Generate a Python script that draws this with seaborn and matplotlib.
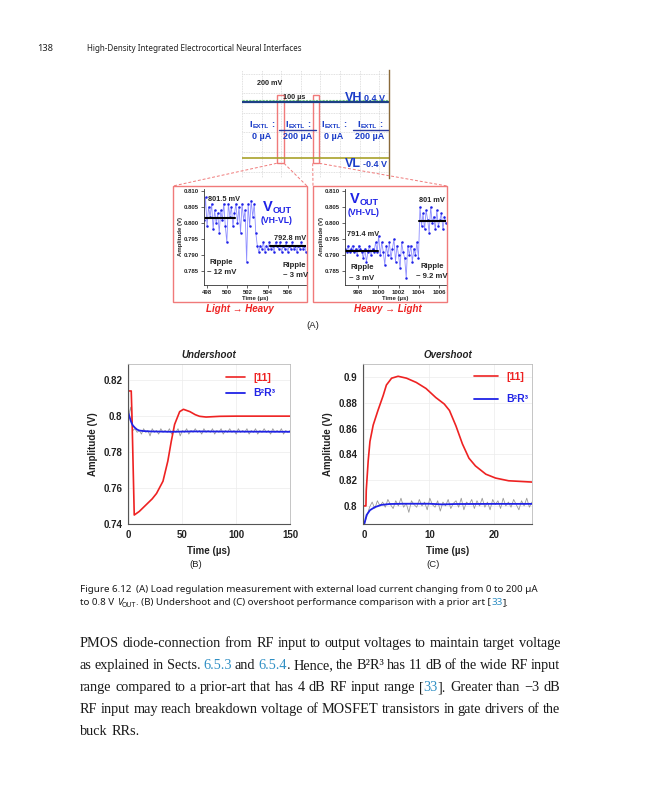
import re
import matplotlib
matplotlib.use("Agg")
import numpy as np
import pandas as pd
import seaborn as sns
import matplotlib.pyplot as plt
from matplotlib.patches import Rectangle

W, H = 648, 800

# ---------------- data ----------------
# (B) undershoot, [11] trace
under_ref_t = [0, 2.5, 3.2, 5.3, 10, 16, 22, 26, 32, 36.5, 39.7, 42.8, 47.5, 51, 57, 62, 66, 72, 85, 100, 150]
under_ref_v = [0.814, 0.814, 0.800, 0.745, 0.747, 0.7505, 0.754, 0.757, 0.7638, 0.775, 0.786, 0.7954,
               0.8025, 0.8038, 0.8025, 0.8008, 0.7999, 0.7995, 0.7999, 0.800, 0.800]
# (B) B2R3 smoothed trace
under_b2r3_t = [0, 1, 2, 3, 4, 6, 8, 10, 14, 20, 40, 60, 100, 150]
under_b2r3_v = [0.8015, 0.7995, 0.7975, 0.796, 0.7948, 0.7935, 0.7925, 0.792, 0.7917, 0.7915,
                0.7913, 0.7915, 0.7914, 0.7913]
# (B) B2R3 raw (grey) trace, sampled every 2 us
under_raw_v = [0.800, 0.805, 0.792, 0.793, 0.791, 0.792, 0.790, 0.793, 0.791, 0.792,
               0.789, 0.793, 0.791, 0.792, 0.790, 0.793, 0.791, 0.792, 0.791, 0.793,
               0.790, 0.792, 0.791, 0.793, 0.789, 0.792, 0.791, 0.793, 0.790, 0.792,
               0.791, 0.793, 0.791, 0.792, 0.790, 0.793, 0.791, 0.792, 0.791, 0.793,
               0.790, 0.792, 0.791, 0.793, 0.790, 0.792, 0.791, 0.793, 0.791, 0.792,
               0.790, 0.793, 0.791, 0.792, 0.791, 0.793, 0.790, 0.792, 0.791, 0.793,
               0.790, 0.792, 0.791, 0.793, 0.791, 0.792, 0.790, 0.793, 0.791, 0.792,
               0.791, 0.793, 0.790, 0.792, 0.791, 0.792]

# (C) overshoot
over_ref_t = [-0.2, 0.25, 0.3, 0.6, 0.87, 1.37, 2.1, 2.9, 3.4, 4.2, 5.2, 6.5, 8, 9.5, 11, 12.3,
              13.1, 14.1, 15.1, 16.1, 17.1, 18.7, 20.2, 22.2, 25.8]
over_ref_v = [0.800, 0.800, 0.812, 0.835, 0.850, 0.8627, 0.874, 0.8855, 0.8937, 0.899, 0.9005,
              0.899, 0.8957, 0.891, 0.884, 0.879, 0.874, 0.862, 0.848, 0.837, 0.831, 0.8246,
              0.8216, 0.8195, 0.8185]
over_b2r3_t = [0, 0.36, 0.87, 1.6, 2.6, 3.9, 6, 10, 12, 14, 20, 25.8]
over_b2r3_v = [0.786, 0.793, 0.7967, 0.799, 0.8008, 0.8015, 0.8017, 0.8017, 0.8012, 0.8015,
               0.8016, 0.8016]
over_raw_v = [0.786, 0.792, 0.799, 0.803, 0.798, 0.804, 0.800, 0.803, 0.799, 0.805,
              0.801, 0.798, 0.804, 0.800, 0.806, 0.799, 0.802, 0.795, 0.804, 0.801,
              0.799, 0.805, 0.800, 0.803, 0.797, 0.806, 0.801, 0.799, 0.804, 0.796,
              0.803, 0.800, 0.805, 0.798, 0.802, 0.804, 0.799, 0.806, 0.797, 0.803,
              0.801, 0.805, 0.798, 0.804, 0.800, 0.806, 0.799, 0.803, 0.797, 0.805,
              0.801, 0.804, 0.798, 0.806, 0.800, 0.803, 0.799, 0.805, 0.801, 0.797,
              0.804, 0.800, 0.806, 0.799, 0.803]

# (A) zoomed V_OUT traces
lh_vout = [0.801, 0.808, 0.799, 0.805, 0.802, 0.806, 0.798, 0.804, 0.800, 0.803,
           0.797, 0.804, 0.801, 0.806, 0.799, 0.794, 0.806, 0.802, 0.805, 0.799,
           0.803, 0.806, 0.800, 0.805, 0.797, 0.806, 0.801, 0.804, 0.788, 0.806,
           0.799, 0.807, 0.802, 0.806,
           0.797, 0.793, 0.791, 0.793, 0.792, 0.794, 0.791, 0.793, 0.792, 0.794,
           0.792, 0.793, 0.791, 0.794, 0.793, 0.792, 0.794, 0.791, 0.793, 0.792,
           0.794, 0.791, 0.793, 0.792, 0.794, 0.792, 0.793, 0.791, 0.793, 0.792,
           0.794, 0.792, 0.793, 0.791]
lh_span = (497.7, 507.8)
lh_levels = [(497.7, 500.8, 0.8015), (504.2, 507.8, 0.7928)]

hl_vout = [0.792, 0.791, 0.793, 0.791, 0.792, 0.793, 0.791, 0.792, 0.790, 0.793,
           0.792, 0.791, 0.789, 0.792, 0.788, 0.791, 0.793, 0.790, 0.792, 0.791,
           0.794, 0.791,
           0.796, 0.790, 0.794, 0.791, 0.787, 0.793, 0.790, 0.794, 0.789, 0.792,
           0.795, 0.788, 0.793, 0.790, 0.786, 0.794, 0.791, 0.789, 0.783, 0.793,
           0.790, 0.793, 0.788, 0.792, 0.790, 0.794, 0.789,
           0.805, 0.799, 0.803, 0.798, 0.804, 0.801, 0.797, 0.805, 0.800, 0.802,
           0.798, 0.804, 0.799, 0.801, 0.803, 0.798, 0.802, 0.800]
hl_span = (996.7, 1006.7)
hl_levels = [(996.7, 1000.0, 0.7913), (1004.0, 1006.7, 0.8005)]

# scope screen: levels in V, load-step windows in us
scope_vh, scope_vl = 0.4, -0.4
scope_heavy = [(189, 378), (566, 750)]
iextl_labels = ["0 µA", "200 µA", "0 µA", "200 µA"]

body_lines = [
    "PMOS diode-connection from RF input to output voltages to maintain target voltage",
    "as explained in Sects. {6.5.3} and {6.5.4}. Hence, the B²R³ has 11 dB of the wide RF input",
    "range compared to a prior-art that has 4 dB RF input range [{33}]. Greater than −3 dB",
    "RF input may reach breakdown voltage of MOSFET transistors in gate drivers of the",
    "buck RRs.",
]

RED = "#ee2222"
BLUE = "#1f22e6"
SCOPE_BLUE = "#1a3cc8"
LINK = "#2f8fc4"
PINK = "#f07a7a"

sns.set_theme(style="white")
plt.rcParams["font.family"] = ["Liberation Sans", "DejaVu Sans"]

fig = plt.figure(figsize=(W / 100, H / 100), dpi=100)
# transparent overlay in page pixels, drawn above the chart axes
page = fig.add_axes([0, 0, 1, 1])
page.set_xlim(0, W)
page.set_ylim(H, 0)
page.axis("off")
page.patch.set_visible(False)
page.set_zorder(10)
renderer = fig.canvas.get_renderer()


def px_axes(x0, y0, x1, y1):
    return fig.add_axes([x0 / W, 1 - y1 / H, (x1 - x0) / W, (y1 - y0) / H])


def text_width(s, **kw):
    kw = {k: v for k, v in kw.items() if k != "dy"}
    t = page.text(0, 0, s, **kw)
    w = t.get_window_extent(renderer).width
    t.remove()
    return w


def space_width(**kw):
    return text_width("a a", **kw) - text_width("aa", **kw)


def runs_width(runs):
    total = 0
    for s, kw in runs:
        core = s.strip(" ")
        nsp = len(s) - len(core)
        total += text_width(core, **kw) + nsp * space_width(**kw)
    return total


def draw_runs(runs, x, y, ha="left"):
    total = runs_width(runs)
    if ha == "center":
        x -= total / 2
    elif ha == "right":
        x -= total
    for s, kw in runs:
        kw = dict(kw)
        dy = kw.pop("dy", 0)
        lead = len(s) - len(s.lstrip(" "))
        trail = len(s) - len(s.rstrip(" "))
        core = s.strip(" ")
        sp = space_width(**kw)
        x += lead * sp
        page.text(x, y + dy, core, ha="left", va="baseline", **kw)
        x += text_width(core, **kw) + trail * sp
    return x


# ---------------- header ----------------
hdr = dict(family="Noto Sans", color="#222222")
title_txt = "High-Density Integrated Electrocortical Neural Interfaces"
hsize = 10 * 216 / text_width(title_txt, size=10, **hdr)
page.text(37, 51, "138", size=hsize * 1.15, weight="bold", va="baseline", **hdr)
page.text(87, 51, title_txt, size=hsize, va="baseline", **hdr)

# ---------------- (A) scope screen ----------------
sc = px_axes(242, 70, 389, 178)
sc.set_xlim(0, 750)
sc.set_ylim(-0.691, 0.851)
sc.set_xticks(np.arange(0, 751, 100))
sc.set_yticks(np.arange(-0.6, 0.85, 0.28))
sc.grid(True, color="#d6d6d6", lw=0.6, ls=(0, (1, 1)))
sc.tick_params(length=0, labelbottom=False, labelleft=False)
for side in ["top", "left", "bottom"]:
    sc.spines[side].set_visible(False)
sc.spines["right"].set_color("#8a6a3a")
sc.spines["right"].set_linewidth(1.0)
sns.lineplot(x=[0, 750], y=[scope_vh + 0.02] * 2, ax=sc, color="#7cd67c", lw=0.8, ls=(0, (2, 1)))
sns.lineplot(x=[0, 750], y=[scope_vh] * 2, ax=sc, color="#1d3f86", lw=1.6)
sns.lineplot(x=[0, 750], y=[scope_vl] * 2, ax=sc, color="#a9a22a", lw=1.2)
for a, b in scope_heavy:
    sns.lineplot(x=[a, b], y=[0.0, 0.0], ax=sc, color="#2a3aa0", lw=1.0)
for a, b in [(177, 214), (361, 394)]:
    sc.add_patch(Rectangle((a, -0.477), b - a, 0.967, fill=False, ec=PINK, lw=1.0, clip_on=False))

page.text(270, 85, "200 mV", size=5.2, weight="bold", ha="center", va="baseline")
page.annotate("", xy=(287, 75), xytext=(287, 91), arrowprops=dict(arrowstyle="->", lw=0.6))
page.annotate("", xy=(301, 91), xytext=(287, 91), arrowprops=dict(arrowstyle="->", lw=0.6))
page.text(294, 99, "100 µs", size=5.2, weight="bold", ha="center", va="baseline")
sb = dict(weight="bold", color=SCOPE_BLUE)
draw_runs([("VH", dict(size=9, **sb)), (" 0.4 V", dict(size=6.5, **sb))], 365, 101, ha="center")
draw_runs([("VL", dict(size=9, **sb)), (" -0.4 V", dict(size=6.5, **sb))], 366, 167, ha="center")
for cx, lab in zip([262, 298, 334, 370], iextl_labels):
    draw_runs([("I", dict(size=6.8, **sb)), ("EXTL", dict(size=4.6, dy=1.5, **sb)),
               (" :", dict(size=6.8, **sb))], cx, 127, ha="center")
    page.text(cx, 139, lab, size=6.5, ha="center", va="baseline", **sb)

# connectors and red boxes
dash = dict(color=PINK, lw=0.7, ls=(0, (3, 2)))
page.plot([276.7, 173], [163.3, 186], **dash)
page.plot([284, 307], [163.3, 186], **dash)
page.plot([312.7, 313], [163.3, 186], **dash)
page.plot([319.3, 447], [163.3, 186], **dash)
for x0 in [173, 313]:
    page.add_patch(Rectangle((x0, 186), 134, 116, fill=False, ec=PINK, lw=1.0))


def zoom_panel(box, vals, span, levels, xticks):
    ax = px_axes(*box)
    t = np.linspace(span[0], span[1], len(vals))
    sns.lineplot(x=t, y=vals, ax=ax, color="#8e8eff", lw=0.6, marker="o", markersize=1.8,
                 markerfacecolor="#1f22e6", markeredgewidth=0, estimator=None)
    for a, b, v in levels:
        sns.lineplot(x=[a, b], y=[v, v], ax=ax, color="black", lw=1.5)
    ax.set_xlim(*span)
    ax.set_ylim(0.7807, 0.8106)
    ax.set_yticks([0.785, 0.790, 0.795, 0.800, 0.805, 0.810])
    ax.set_yticklabels(["0.785", "0.790", "0.795", "0.800", "0.805", "0.810"])
    ax.set_xticks(xticks)
    ax.set_xticklabels([str(v) for v in xticks])
    ax.tick_params(labelsize=4.3, length=2, width=0.5, pad=1.5, left=True, bottom=True)
    for lab in ax.get_xticklabels() + ax.get_yticklabels():
        lab.set_fontweight("bold")
    for side in ["top", "right"]:
        ax.spines[side].set_visible(False)
    for side in ["left", "bottom"]:
        ax.spines[side].set_color("#333333")
        ax.spines[side].set_linewidth(0.6)
    ax.set_xlabel("Time (µs)", fontsize=4.3, weight="bold", labelpad=0.5)
    ax.set_ylabel("Amplitude (V)", fontsize=4.3, weight="bold", labelpad=1)
    return ax


zoom_panel((204, 189, 306, 285), lh_vout, lh_span, lh_levels, [498, 500, 502, 504, 506])
zoom_panel((345, 189, 446, 285), hl_vout, hl_span, hl_levels, [998, 1000, 1002, 1004, 1006])

sm = dict(size=5.3, weight="bold")
page.text(224, 201, "801.5 mV", ha="center", va="baseline", **sm)
page.text(290, 240, "792.8 mV", ha="center", va="baseline", **sm)
page.text(221, 264, "Ripple", ha="center", va="baseline", size=5.6, weight="bold")
page.text(222, 274, "~ 12 mV", ha="center", va="baseline", size=5.6, weight="bold")
page.text(294, 267, "Ripple", ha="center", va="baseline", size=5.6, weight="bold")
page.text(296, 277, "~ 3 mV", ha="center", va="baseline", size=5.6, weight="bold")
page.text(432, 202, "801 mV", ha="center", va="baseline", **sm)
page.text(363, 236, "791.4 mV", ha="center", va="baseline", **sm)
page.text(362, 269, "Ripple", ha="center", va="baseline", size=5.6, weight="bold")
page.text(362, 280, "~ 3 mV", ha="center", va="baseline", size=5.6, weight="bold")
page.text(432, 268, "Ripple", ha="center", va="baseline", size=5.6, weight="bold")
page.text(432, 278, "~ 9.2 mV", ha="center", va="baseline", size=5.6, weight="bold")
vb = dict(weight="bold", color=BLUE)
for cx, cy in [(277, 211), (364, 203)]:
    draw_runs([("V", dict(size=10.5, **vb)), ("OUT", dict(size=6.5, dy=2, **vb))], cx, cy, ha="center")
    page.text(cx, cy + 12, "(VH-VL)", size=6.2, ha="center", va="baseline", **vb)

page.text(240, 312, "Light → Heavy", size=7, weight="bold", style="italic", color=RED,
          ha="center", va="baseline")
page.text(388, 312, "Heavy → Light", size=7, weight="bold", style="italic", color=RED,
          ha="center", va="baseline")
page.text(313, 328, "(A)", size=6.8, ha="center", va="baseline", color="#222222")


# ---------------- (B) and (C) ----------------
def style_main(ax, xlim, ylim, xt, yt, ylabs, title):
    ax.set_xlim(*xlim)
    ax.set_ylim(*ylim)
    ax.set_xticks(xt)
    ax.set_xticklabels([str(v) for v in xt])
    ax.set_yticks(yt)
    ax.set_yticklabels(ylabs)
    ax.grid(True, color="#ececec", lw=0.5)
    ax.tick_params(labelsize=7, length=0, pad=4)
    for lab in ax.get_xticklabels() + ax.get_yticklabels():
        lab.set_fontweight("bold")
        lab.set_color("#222222")
    for side in ["left", "bottom"]:
        ax.spines[side].set_color("#555555")
        ax.spines[side].set_linewidth(0.8)
    for side in ["top", "right"]:
        ax.spines[side].set_color("#bbbbbb")
        ax.spines[side].set_linewidth(0.6)
    ax.set_xlabel("Time (µs)", fontsize=7, weight="bold", labelpad=5, color="#222222")
    ax.set_ylabel("Amplitude (V)", fontsize=7, weight="bold", labelpad=4, color="#222222")
    ax.set_title(title, fontsize=7, weight="bold", style="italic", pad=4, color="#222222")


axb = px_axes(128, 364, 290, 524)
sns.lineplot(x=np.linspace(0, 150, len(under_raw_v)), y=under_raw_v, ax=axb, color="#9a9a9a",
             lw=0.6, estimator=None)
sns.lineplot(x=under_ref_t, y=under_ref_v, ax=axb, color=RED, lw=1.2, label="[11]", estimator=None)
sns.lineplot(x=under_b2r3_t, y=under_b2r3_v, ax=axb, color=BLUE, lw=1.3, label="B²R³", estimator=None)
style_main(axb, (-0.5, 150), (0.74, 0.829), [0, 50, 100, 150], [0.74, 0.76, 0.78, 0.80, 0.82],
           ["0.74", "0.76", "0.78", "0.8", "0.82"], "Undershoot")
axb.legend(loc="upper left", bbox_to_anchor=(0.55, 1.005), frameon=False, handlelength=1.75,
           labelcolor=[RED, BLUE], prop=dict(size=7.5, weight="bold"), labelspacing=0.55)

axc = px_axes(363, 364, 532, 524)
sns.lineplot(x=np.linspace(0, 25.8, len(over_raw_v)), y=over_raw_v, ax=axc, color="#9a9a9a",
             lw=0.6, estimator=None)
sns.lineplot(x=over_ref_t, y=over_ref_v, ax=axc, color=RED, lw=1.2, label="[11]", estimator=None)
sns.lineplot(x=over_b2r3_t, y=over_b2r3_v, ax=axc, color=BLUE, lw=1.3, label="B²R³", estimator=None)
style_main(axc, (-0.2, 25.8), (0.786, 0.91), [0, 10, 20], [0.80, 0.82, 0.84, 0.86, 0.88, 0.90],
           ["0.8", "0.82", "0.84", "0.86", "0.88", "0.9"], "Overshoot")
axc.legend(loc="upper left", bbox_to_anchor=(0.6, 1.01), frameon=False, handlelength=2.3,
           labelcolor=[RED, BLUE], prop=dict(size=7.5, weight="bold"), labelspacing=1.2)

page.text(196, 567, "(B)", size=6.8, ha="center", va="baseline", color="#222222")
page.text(433, 567, "(C)", size=6.8, ha="center", va="baseline", color="#222222")

# ---------------- caption ----------------
cap = dict(family="Noto Sans", color="#1a1a1a")
line1 = [("Figure 6.12", dict(weight="bold", **cap)),
         ("  (A) Load regulation measurement with external load current changing from 0 to 200 µA", dict(**cap))]
csize = 10 * 458 / runs_width([(s, dict(kw, size=10)) for s, kw in line1])
line1 = [(s, dict(kw, size=csize)) for s, kw in line1]
line2 = [("to 0.8 V ", dict(size=csize, **cap)),
         ("V", dict(size=csize, style="italic", **cap)),
         ("OUT", dict(size=csize * 0.72, dy=2, **cap)),
         (". (B) Undershoot and (C) overshoot performance comparison with a prior art [", dict(size=csize, **cap)),
         ("33", dict(size=csize, family="Noto Sans", color=LINK)),
         ("].", dict(size=csize, **cap))]
draw_runs(line1, 80, 592)
draw_runs(line2, 80, 605)

# ---------------- body text (justified) ----------------
body = dict(family="Liberation Serif", color="#1a1a1a")
bsize = 10 * 480 / text_width(body_lines[0], size=10, **body)


def word_runs(word):
    runs = []
    for piece in re.split(r"(\{[^}]*\})", word):
        if not piece:
            continue
        if piece.startswith("{"):
            runs.append((piece[1:-1], dict(size=bsize, family="Liberation Serif", color=LINK)))
        else:
            runs.append((piece, dict(size=bsize, **body)))
    return runs


for i, line in enumerate(body_lines):
    y = 647 + 22 * i
    words = [word_runs(w) for w in line.split(" ")]
    widths = [runs_width(w) for w in words]
    if i < len(body_lines) - 1:
        gap = (560 - 80 - sum(widths)) / (len(words) - 1)
    else:
        gap = space_width(size=bsize, **body)
    x = 80
    for w, wd in zip(words, widths):
        draw_runs(w, x, y)
        x += wd + gap

fig.savefig("out.png", dpi=100)
